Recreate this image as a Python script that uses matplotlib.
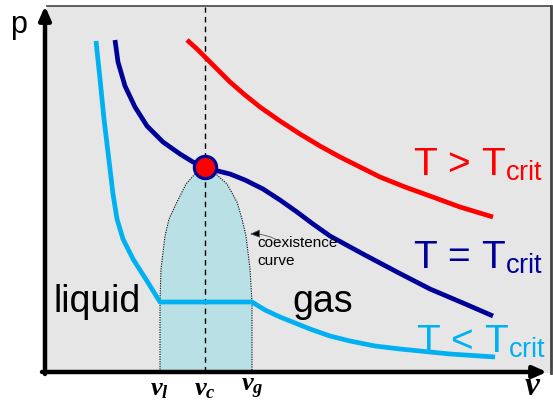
import matplotlib
matplotlib.use("Agg")
import matplotlib.pyplot as plt
from matplotlib.patches import Rectangle

plt.rcParams['font.family'] = ['Liberation Sans', 'DejaVu Sans']
plt.rcParams['mathtext.fontset'] = 'custom'
plt.rcParams['mathtext.rm'] = 'Liberation Sans'
plt.rcParams['mathtext.it'] = 'Liberation Serif:italic:bold'
plt.rcParams['mathtext.bf'] = 'Liberation Serif:italic:bold'

# ---- data (v = specific volume, p = pressure, arbitrary units) ----
red_v = [142, 152, 162, 173, 185, 200, 215, 235, 255, 275, 295, 315, 335, 360, 385, 415, 448]
red_p = [332, 323, 313, 302, 290, 277, 265, 251, 238, 226, 215, 205, 195, 185, 176, 165, 155]

crit_v = [70, 73, 80, 90, 102, 118, 135, 148, 160, 173, 185, 200, 218, 235, 252, 268, 285,
          318, 352, 385, 418, 448]
crit_p = [332, 310, 286, 265, 246, 230, 218, 210, 205, 201, 198, 192, 183, 172, 160, 148, 136,
          118, 100, 83, 69, 56]

low_v = [51, 53, 55, 57, 59, 62, 65, 68, 72, 78, 88, 102, 115, 207, 220, 235, 250, 265, 285,
         305, 330, 355, 405, 450]
low_p = [331, 312, 293, 273, 253, 228, 203, 178, 153, 133, 113, 91, 70, 70, 62, 55, 49, 43, 36,
         31, 26, 23, 18, 15]

dome_v = [115, 115, 115, 116, 120, 124, 132, 141, 150, 160, 171, 182, 192, 197, 201, 205, 207, 207, 207]
dome_p = [0, 33, 70, 103, 136, 153, 170, 188, 198, 205, 198, 188, 170, 153, 136, 103, 70, 33, 0]

critical_point = (160, 205)
tick_pos = [115, 160, 207]
tick_labels = [r'$\mathbf{v}_l$', r'$\mathbf{v}_c$', r'$\mathbf{v}_g$']

W, H = 553, 410
fig = plt.figure(figsize=(W / 100, H / 100), dpi=100)
ax = fig.add_axes([45 / W, 37 / H, (W - 45) / W, 373 / H])
ax.set_xlim(0, W - 45)
ax.set_ylim(0, 373)
for s in ax.spines.values():
    s.set_visible(False)
ax.set_facecolor('none')

# grey panel with shadowed top/right edges
ax.add_patch(Rectangle((2, -1), 504, 367, facecolor='#e6e6e6', edgecolor='none', zorder=0, clip_on=False))
ax.plot([2, 506], [366, 366], color='#444444', lw=1.2, zorder=0.5, clip_on=False)
ax.plot([506, 506], [-1, 366], color='#444444', lw=2.0, zorder=0.5, clip_on=False)

# coexistence dome
ax.fill(dome_v, dome_p, facecolor='#b9e0e4', edgecolor='black', linestyle=(0, (1, 1.2)), lw=0.8, zorder=1)

# dashed vertical at v_c
ax.plot([critical_point[0]] * 2, [0, 365], color='black', lw=1.0, dashes=(4, 3), zorder=1.5, clip_on=False)

# isotherms
ax.plot(red_v, red_p, color='#ff0000', lw=3.4, solid_capstyle='butt', solid_joinstyle='round', zorder=2)
ax.plot(crit_v, crit_p, color='#000099', lw=3.4, solid_capstyle='butt', solid_joinstyle='round', zorder=2)
ax.plot(low_v, low_p, color='#00b0f0', lw=3.4, solid_capstyle='butt', solid_joinstyle='round', zorder=2)

ax.plot(*critical_point, 'o', ms=16, mfc='#ff0000', mec='#000099', mew=2.3, zorder=3)

# axes arrows
ax.annotate('', xy=(502, 0), xytext=(-3, 0), annotation_clip=False,
            arrowprops=dict(arrowstyle='-|>,head_length=0.8,head_width=0.35', lw=3.2, color='black',
                            shrinkA=0, shrinkB=0), zorder=4)
ax.annotate('', xy=(0, 366), xytext=(0, -2), annotation_clip=False,
            arrowprops=dict(arrowstyle='-|>,head_length=0.8,head_width=0.35', lw=3.2, color='black',
                            shrinkA=0, shrinkB=0), zorder=4)

# ticks
ax.set_xticks(tick_pos)
ax.set_xticklabels(tick_labels, fontsize=19)
ax.tick_params(axis='x', length=0, pad=3)
ax.set_yticks([])

# labels
ax.text(-26, 348, 'p', fontsize=22, ha='center', va='center', clip_on=False)
ax.text(488, -14, r'$\mathbf{v}$', fontsize=24, ha='center', va='center', clip_on=False)
ax.text(8, 61, 'liquid', fontsize=27, ha='left', va='baseline')
ax.text(247, 61, 'gas', fontsize=27, ha='left', va='baseline')
ax.text(368, 198, r'T > T$_\mathrm{crit}$', fontsize=28, color='#ff0000', ha='left', va='baseline')
ax.text(368, 105, r'T = T$_\mathrm{crit}$', fontsize=28, color='#000099', ha='left', va='baseline')
ax.text(371, 21, r'T < T$_\mathrm{crit}$', fontsize=28, color='#00b0f0', ha='left', va='baseline')

ax.text(212, 121, 'coexistence\ncurve', fontsize=11, ha='left', va='center', linespacing=1.3)
ax.annotate('', xy=(205, 138), xytext=(236, 130),
            arrowprops=dict(arrowstyle='-|>,head_length=0.6,head_width=0.25', lw=0.6, color='#555555',
                            connectionstyle='arc3,rad=0.15', shrinkA=0, shrinkB=0,
                            fc='black'))

fig.savefig('out.png', dpi=100)
